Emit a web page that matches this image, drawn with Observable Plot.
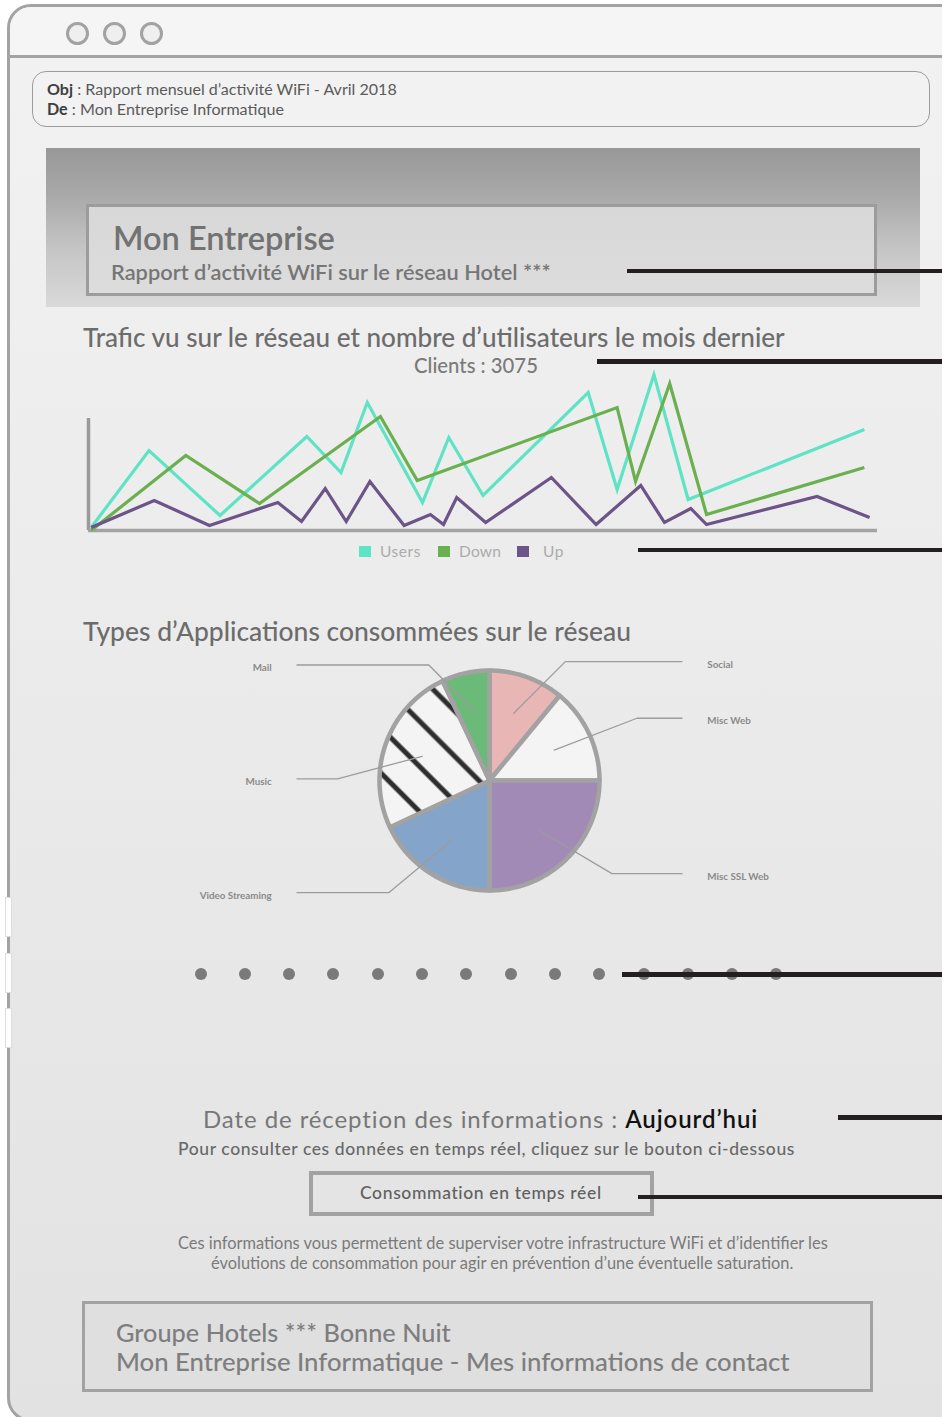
<!DOCTYPE html>
<html><head><meta charset="utf-8">
<script src="https://cdn.jsdelivr.net/npm/d3@7"></script>
<script src="https://cdn.jsdelivr.net/npm/@observablehq/plot@0.6"></script>
<style>
html,body{margin:0;padding:0;background:#fff;}
body{width:942px;height:1417px;position:relative;overflow:hidden;font-family:Lato,"Noto Sans",sans-serif;}
.a{position:absolute;box-sizing:border-box;}
.t{position:absolute;white-space:nowrap;line-height:1.2;}
#win{left:7px;top:4px;width:1000px;height:1418px;border:3.5px solid #a3a3a3;border-radius:24px;background:linear-gradient(#f2f2f2,#ececec 40%,#e2e2e2);overflow:hidden;}
#bar{left:0;top:0;width:100%;height:51px;background:#f5f5f5;border-bottom:3px solid #a3a3a3;}
.circ{width:23px;height:23px;border:3px solid #a2a2a2;border-radius:50%;background:#efefef;}
#obj{left:32px;top:71px;width:898px;height:56px;border:1.5px solid #9c9c9c;border-radius:14px;background:#f2f2f2;}
#banner{left:46px;top:148px;width:874px;height:159px;background:linear-gradient(#989898,#a9a9a9 30%,#c6c6c6 65%,#d9d9d9);}
#inner{left:86px;top:204px;width:791px;height:92px;border:3.5px solid #9c9c9c;background:linear-gradient(#d8d8d8,#dcdcdc);}
#btn{left:309px;top:1171px;width:345px;height:45px;border:4px solid #a2a2a2;background:#e4e4e4;}
#foot{left:82px;top:1301px;width:791px;height:91px;border:3.5px solid #a2a2a2;background:#dfdfdf;}
.blk{background:#231f20;height:4.5px;}
.dot{width:12px;height:12px;border-radius:50%;background:#7a7a7a;}
.sw{width:11.5px;height:11.5px;}
.tab{left:5px;width:7px;height:40px;background:#fff;border:1px solid #ddd;}
</style></head>
<body>
<script>
// ---------- DATA ----------
const seriesNames = ["Users", "Down", "Up"];
const usersDay = [0.1, 2.3, 5.0, 8.3, 9.6, 10.6, 12.7, 13.7, 15.0, 19.0, 20.1, 21.5, 22.8, 29.5];
const usersTraffic = [3, 80, 15, 94, 58, 128, 28, 93, 35, 138, 41, 156, 31, 101];
const downDay = [0.1, 3.7, 6.5, 11.1, 12.5, 20.1, 20.8, 22.1, 23.5, 29.5];
const downTraffic = [0, 75, 27, 114, 50, 123, 49, 147, 16, 63];
const upDay = [0.1, 2.5, 4.6, 7.2, 8.1, 9.0, 9.8, 10.7, 12.0, 13.0, 13.5, 14.0, 15.1, 17.6, 19.3, 21.0, 21.9, 22.9, 23.5, 27.7, 29.7];
const upTraffic = [3, 30, 5, 28, 9, 42, 9, 49, 5, 16, 6, 33, 8, 53, 6, 45, 8, 22, 6, 34, 13];
const clientsCount = 3075;
const appNames = ["Social", "Misc Web", "Misc SSL Web", "Video Streaming", "Music", "Mail"];
const appShares = [11, 14, 25, 18, 25, 7];

// ---------- STYLES ----------
const seriesColors = ["#5ee3c5", "#6ab04f", "#6c5488"];
const appColors = ["#e8b6b5", "#f4f4f4", "#a18ab6", "#84a4c9", "url(#hatch)", "#6cba78"];

// ---------- helpers ----------
function box(cls, id, css) {
  const d = document.createElement("div");
  d.className = "a " + cls; if (id) d.id = id;
  Object.assign(d.style, css || {});
  document.body.appendChild(d); return d;
}
function txt(html, o) {
  const d = document.createElement("div");
  d.className = "t"; d.innerHTML = html;
  d.style.fontWeight = o.weight || 400; d.style.color = o.color || "#777";
  let fs;
  if (o.size) {
    fs = o.size;
    d.style.fontSize = fs + "px";
    document.body.appendChild(d);
    const mw = d.getBoundingClientRect().width;
    const n = d.textContent.length;
    d.style.letterSpacing = ((o.w - mw) / n) + "px";
  } else {
    d.style.fontSize = "100px";
    document.body.appendChild(d);
    const mw = d.getBoundingClientRect().width;
    fs = 100 * o.w / mw;
    d.style.fontSize = fs + "px";
  }
  const left = o.cx != null ? o.cx - o.w / 2 : o.x;
  d.style.left = left + "px";
  d.style.top = (o.base - 0.987 * fs) + "px";
  return d;
}

// ---------- window chrome ----------
box("", "win");
const win = document.getElementById("win");
const bar = document.createElement("div"); bar.className = "a"; bar.id = "bar"; win.appendChild(bar);
[66, 103, 140].forEach(x => box("circ", null, {left: x + "px", top: "21.5px"}));
[897, 953, 1008].forEach(y => box("tab", null, {top: y + "px"}));
box("", "obj");
box("", "banner");
box("", "inner");
box("", "btn");
box("", "foot");

// ---------- texts ----------
txt('<b style="color:#3e3e3e">Obj</b> : Rapport mensuel d\u2019activité WiFi - Avril 2018', {x: 47, base: 95, w: 350, color: "#5a5a5a"});
txt('<b style="color:#3e3e3e">De</b> : Mon Entreprise Informatique', {x: 47, base: 115, w: 237, color: "#5a5a5a"});
txt("Mon Entreprise", {x: 113, base: 250, w: 222, weight: 600, color: "#727272"});
txt("Rapport d\u2019activité WiFi sur le réseau Hotel ***", {x: 111, base: 280.5, w: 440, weight: 600, color: "#767676"});
txt("Trafic vu sur le réseau et nombre d\u2019utilisateurs le mois dernier", {x: 83, base: 347.5, w: 702, weight: 500, color: "#6c6c6c"});
txt("Clients : " + clientsCount, {x: 414, base: 373, w: 124, weight: 500, color: "#7a7a7a"});
txt("Types d\u2019Applications consommées sur le réseau", {x: 83, base: 642, w: 548, weight: 500, color: "#6c6c6c"});
txt('Date de réception des informations : <span style="color:#111;font-weight:600">Aujourd\u2019hui</span>', {x: 203, base: 1128.5, w: 556, size: 24, weight: 400, color: "#777"});
txt("Pour consulter ces données en temps réel, cliquez sur le bouton ci-dessous", {x: 178, base: 1155, w: 617, size: 17.5, weight: 500, color: "#686868"});
txt("Consommation en temps réel", {x: 360, base: 1199.5, w: 242, size: 17.5, weight: 500, color: "#606060"});
txt("Ces informations vous permettent de superviser votre infrastructure WiFi et d\u2019identifier les", {x: 178, base: 1249, w: 650, color: "#7a7a7a"});
txt("évolutions de consommation pour agir en prévention d\u2019une éventuelle saturation.", {x: 211, base: 1269, w: 583, color: "#7a7a7a"});
txt("Groupe Hotels *** Bonne Nuit", {x: 116, base: 1341.5, w: 335, weight: 500, color: "#7e7e7e"});
txt("Mon Entreprise Informatique - Mes informations de contact", {x: 116, base: 1371.5, w: 674, weight: 500, color: "#7e7e7e"});

// legend
const legX = [359, 438, 517], legTextX = [380, 459, 543], legW = [41, 42, 21];
seriesNames.forEach((n, i) => {
  box("sw", null, {left: legX[i] + "px", top: "545.5px", background: seriesColors[i]});
  txt(n, {x: legTextX[i], base: 557, w: legW[i], size: 15.5, color: "#ababab"});
});

// pagination dots
for (let i = 0; i < 14; i++) box("dot", null, {left: (194.5 + i * 44.3) + "px", top: "968.3px"});

// ---------- line chart ----------
const toRows = (days, vals) => days.map((d, i) => ({day: d, value: vals[i]}));
const series = [toRows(usersDay, usersTraffic), toRows(downDay, downTraffic), toRows(upDay, upTraffic)];
const lineChart = Plot.plot({
  width: 840, height: 175,
  marginLeft: 28, marginRight: 23, marginTop: 5, marginBottom: 10,
  x: {domain: [0, 30], axis: null},
  y: {domain: [0, 160], axis: null},
  style: {background: "transparent", overflow: "visible"},
  marks: [
    Plot.ruleX([0], {y1: 0, y2: 112, stroke: "#9a9a9a", strokeWidth: 3.5}),
    Plot.ruleY([0], {stroke: "#a3a3a3", strokeWidth: 3.5}),
    ...series.map((s, i) => Plot.line(s, {x: "day", y: "value", stroke: seriesColors[i], strokeWidth: 3.2,
      strokeLinejoin: "miter", strokeMiterlimit: 6, strokeLinecap: "butt"}))
  ]
});
const lc = box("", null, {left: "60px", top: "365px"});
lc.appendChild(lineChart);

// ---------- pie chart ----------
const apps = appNames.map((n, i) => ({name: n, share: appShares[i], color: appColors[i]}));
const arcs = d3.pie().sort(null).value(d => d.share)(apps);
const R = 110, PW = 610, PH = 260, CX = 299, CY = 130;
const sliceMarks = arcs.map(a => {
  const pts = [{x: 0, y: 0}];
  const n = Math.ceil((a.endAngle - a.startAngle) / 0.01);
  for (let i = 0; i <= n; i++) {
    const t = a.startAngle + (a.endAngle - a.startAngle) * i / n;
    pts.push({x: Math.sin(t), y: Math.cos(t)});
  }
  return Plot.line(pts, {x: "x", y: "y", curve: "linear-closed", fill: a.data.color,
    stroke: "#a2a2a2", strokeWidth: 4.5, strokeLinejoin: "round"});
});
// label layout: right-side labels follow their slice angle, left-side labels are spread evenly
const leaders = [], labels = [];
const mids = arcs.map(a => (a.startAngle + a.endAngle) / 2);
const leftIdx = mids.map((m, i) => i).filter(i => Math.sin(mids[i]) < 0).sort((a, b) => Math.cos(mids[b]) - Math.cos(mids[a]));
arcs.forEach((a, i) => {
  const m = mids[i];
  const s = Math.sin(m) >= 0 ? 1 : -1;
  let ey;
  if (s > 0) ey = Math.cos(m) + 0.14 * Math.sign(Math.cos(m));
  else {
    const k = leftIdx.indexOf(i), n = leftIdx.length;
    ey = 1.05 - (1.05 + 1.02) * k / (n - 1);
  }
  const ex = 1.15 * Math.sin(m) + s * 0.3;
  leaders.push({k: a.data.name, x: 0.65 * Math.sin(m), y: 0.65 * Math.cos(m)});
  leaders.push({k: a.data.name, x: ex, y: ey});
  leaders.push({k: a.data.name, x: s * 1.75, y: ey});
  labels.push({name: a.data.name, x: s * 1.98, y: ey, side: s});
});
const pie = Plot.plot({
  width: PW, height: PH, margin: 0,
  x: {domain: [-CX / R, (PW - CX) / R], range: [0, PW], axis: null},
  y: {domain: [-(PH - CY) / R, CY / R], range: [PH, 0], axis: null},
  style: {background: "transparent", overflow: "visible"},
  marks: [
    ...sliceMarks,
    Plot.line(leaders, {x: "x", y: "y", z: "k", stroke: "#9c9c9c", strokeWidth: 1.3}),
    Plot.text(labels.filter(d => d.side > 0), {x: "x", y: "y", dy: 3, text: "name", textAnchor: "start",
      fontSize: 9.8, fontWeight: 700, fill: "#8a8a8a", fontFamily: "Lato, sans-serif"}),
    Plot.text(labels.filter(d => d.side < 0), {x: "x", y: "y", dy: 3, text: "name", textAnchor: "end",
      fontSize: 9.8, fontWeight: 700, fill: "#8a8a8a", fontFamily: "Lato, sans-serif"})
  ]
});
pie.insertAdjacentHTML("afterbegin",
  '<defs><pattern id="hatch" patternUnits="userSpaceOnUse" width="32" height="32" patternTransform="rotate(45)">' +
  '<rect width="32" height="32" fill="#f4f4f4"/><line x1="0" y1="16" x2="32" y2="16" stroke="#2e2e2e" stroke-width="5"/></pattern></defs>');
const pc = box("", null, {left: "190px", top: "650px"});
pc.appendChild(pie);

// ---------- annotation lines ----------
[[627, 268.5], [597, 359], [638, 547.5], [622, 972], [838, 1115], [638, 1194.5]].forEach(([x, y]) =>
  box("blk", null, {left: x + "px", top: y + "px", width: (942 - x) + "px"}));
</script>
</body></html>
